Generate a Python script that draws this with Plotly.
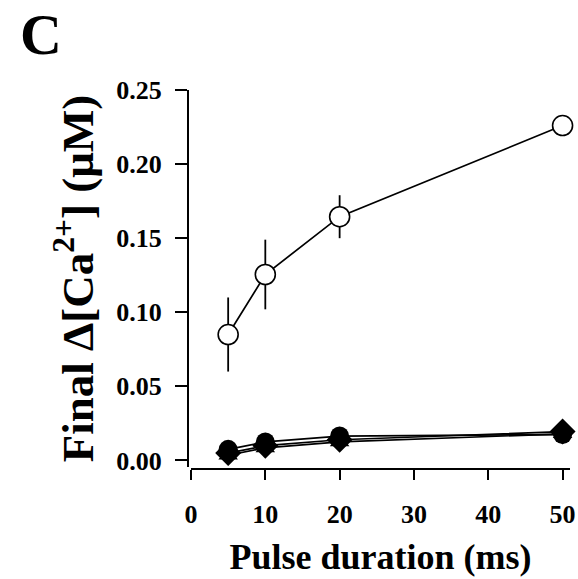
import plotly.graph_objects as go

pulse_ms = [5, 10, 20, 50]
open_circle = [0.085, 0.1255, 0.1645, 0.226]
open_circle_err = [0.025, 0.0235, 0.0145, 0.004]
filled_circle = [0.0075, 0.0125, 0.0165, 0.0175]
filled_triangle = [0.0035, 0.0085, 0.0125, 0.018]
filled_diamond = [0.005, 0.0100, 0.0140, 0.0195]

x_ticks = [0, 10, 20, 30, 40, 50]
y_ticks = [0.00, 0.05, 0.10, 0.15, 0.20, 0.25]
y_tick_labels = ["0.00", "0.05", "0.10", "0.15", "0.20", "0.25"]

FONT = "Liberation Serif"

fig = go.Figure()

line_style = dict(color="black", width=1.7)

fig.add_trace(go.Scatter(x=pulse_ms, y=filled_triangle, mode="lines+markers",
                         line=line_style, cliponaxis=False,
                         marker=dict(symbol="triangle-up", size=17, color="black"),
                         showlegend=False))
fig.add_trace(go.Scatter(x=pulse_ms, y=filled_diamond, mode="lines+markers",
                         line=line_style, cliponaxis=False,
                         marker=dict(symbol="diamond", size=20, color="black"),
                         showlegend=False))
fig.add_trace(go.Scatter(x=pulse_ms, y=filled_circle, mode="lines+markers",
                         line=line_style, cliponaxis=False,
                         marker=dict(symbol="circle", size=19, color="black"),
                         showlegend=False))
fig.add_trace(go.Scatter(x=pulse_ms, y=open_circle, mode="lines+markers",
                         line=line_style, cliponaxis=False,
                         error_y=dict(type="data", array=open_circle_err, color="black",
                                      thickness=1.8, width=0),
                         marker=dict(symbol="circle", size=20, color="white",
                                     line=dict(color="black", width=1.6)),
                         showlegend=False))

W, H = 578, 579
l, r, t, b = 188, 8, 90, 110
pw = W - l - r
ph = H - t - b

fig.update_layout(
    width=W, height=H,
    margin=dict(l=l, r=r, t=t, b=b, pad=0, autoexpand=False),
    plot_bgcolor="white", paper_bgcolor="white",
    font=dict(family=FONT, color="black"),
    xaxis=dict(
        domain=[3 / pw, 1], anchor="free", position=0, automargin=False,
        range=[0, 51], tickvals=x_ticks, ticktext=[str(v) for v in x_ticks],
        showline=True, linecolor="black", linewidth=2,
        ticks="outside", ticklen=10, tickwidth=2, tickcolor="black",
        showgrid=False, zeroline=False,
        tickfont=dict(family=FONT, size=26, color="black", weight="bold"),
        ticklabelstandoff=12,
        title=dict(text="Pulse duration (ms)", standoff=15,
                   font=dict(family=FONT, size=36, color="black", weight="bold")),
    ),
    yaxis=dict(
        domain=[2 / ph, 1], anchor="free", position=0, automargin=False,
        range=[-0.0044, 0.25], tickvals=y_ticks, ticktext=y_tick_labels,
        showline=True, linecolor="black", linewidth=2,
        ticks="outside", ticklen=12, tickwidth=2, tickcolor="black",
        showgrid=False, zeroline=False,
        tickfont=dict(family=FONT, size=26, color="black", weight="bold"),
        ticklabelstandoff=8,
        title=dict(text="Final Δ[Ca<sup>2+</sup>] (μM)", standoff=8,
                   font=dict(family=FONT, size=45, color="black", weight="bold")),
    ),
    annotations=[dict(text="C", xref="paper", yref="paper", x=(18 - l) / pw,
                      y=(H - b) / ph, xanchor="left", yanchor="top",
                      showarrow=False,
                      font=dict(family=FONT, size=58, color="black", weight="bold"))],
)

# remove the default page margin so the figure fills the window exactly
fig.write_html("out.html", config={"displayModeBar": False},
               post_script="document.body.style.margin='0';")
